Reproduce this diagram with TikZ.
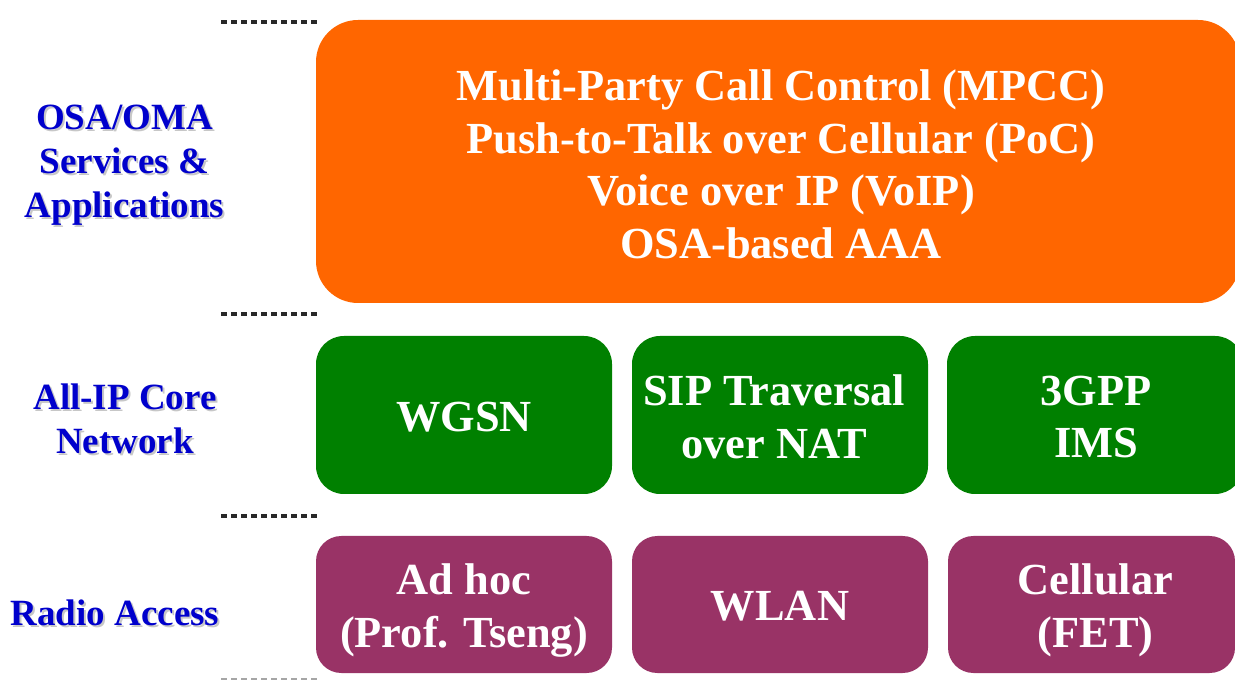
\documentclass[tikz,border=0pt]{standalone}
\usepackage{fontspec}
\usetikzlibrary{calc}
\setmainfont{Liberation Serif}
\definecolor{svcorange}{RGB}{255,102,0}
\definecolor{coregreen}{RGB}{0,128,0}
\definecolor{radioplum}{RGB}{153,51,102}
\definecolor{labelblue}{RGB}{0,0,204}
\definecolor{dashgray}{RGB}{40,40,40}
\tikzset{
  layerbox/.style={rounded corners=#1, inner sep=0pt},
  svcbox/.style={layerbox=31.5pt, fill=svcorange, minimum width=693pt, minimum height=212.25pt},
  corebox/.style={layerbox=21pt, fill=coregreen, minimum width=222pt, minimum height=118.5pt},
  radiobox/.style={layerbox=19pt, fill=radioplum, minimum height=102.75pt},
  boxtext/.style={align=center, text=white, inner sep=0pt,
    font=\bfseries\fontsize{33.3}{39.4}\selectfont},
  layerlabel/.style={align=center, text=labelblue, inner sep=0pt,
    font=\bfseries\fontsize{27.75}{33}\selectfont},
  labelshadow/.style={layerlabel, text=black!22},
  separator/.style={draw=dashgray, line width=3pt, dash pattern=on 4.5pt off 3pt}
}
\begin{document}
\begin{tikzpicture}[x=0.75pt, y=-0.75pt]
  \useasboundingbox (0,0) rectangle (1235,680);
  \clip (0,0) rectangle (1235,680);

  % layer separators
  \coordinate (s1a) at (221,22);  \coordinate (s1b) at (319,22);
  \coordinate (s2a) at (221,314); \coordinate (s2b) at (319,314);
  \coordinate (s3a) at (221,516); \coordinate (s3b) at (319,516);
  \coordinate (s4a) at (221,680); \coordinate (s4b) at (319,680);
  \draw[separator] (s1a) -- (s1b);
  \draw[separator] (s2a) -- (s2b);
  \draw[separator] (s3a) -- (s3b);
  \draw[separator, draw=black!35] (s4a) -- (s4b);

  % services layer
  \node[svcbox] (svc) at (778,161.5) {};
  \node[boxtext] (svctext) at ($(svc.center)+(3,3)$)
    {Multi-Party Call Control (MPCC)\\Push-to-Talk over Cellular (PoC)\\Voice over IP (VoIP)\\OSA-based AAA};

  % core network layer
  \node[corebox] (wgsn) at (464,415) {};
  \node[corebox] (nat)  at (780,415) {};
  \node[corebox] (ims)  at (1095,415) {};
  \node[boxtext] (wgsntext) at ($(wgsn.center)+(0,2)$) {WGSN};
  \node[boxtext] (nattext)  at ($(nat.center)+(-6,2)$) {SIP Traversal\\over NAT};
  \node[boxtext] (imstext)  at ($(ims.center)+(1,2)$) {3GPP\\IMS};

  % radio access layer
  \node[radiobox, minimum width=222pt] (adhoc) at (464,604.5) {};
  \node[radiobox, minimum width=222pt] (wlan)  at (780,604.5) {};
  \node[radiobox, minimum width=215.25pt] (cell) at (1091.5,604.5) {};
  \node[boxtext] (adhoctext) at ($(adhoc.center)+(0,6)$) {Ad hoc\\(Prof. Tseng)};
  \node[boxtext] (wlantext)  at ($(wlan.center)+(0,2)$) {WLAN};
  \node[boxtext] (celltext)  at ($(cell.center)+(4,6)$) {Cellular\\(FET)};

  % layer labels with drop shadow
  \node[labelshadow] (svclabS) at (126.5,167) {OSA/OMA\\Services \&\\Applications};
  \node[layerlabel]  (svclab)  at (124.5,165) {OSA/OMA\\Services \&\\Applications};
  \node[labelshadow] (corelabS) at (127,420.5) {All-IP Core\\Network};
  \node[layerlabel]  (corelab)  at (125,418.5) {All-IP Core\\Network};
  \node[labelshadow] (radiolabS) at (117,615) {Radio Access};
  \node[layerlabel]  (radiolab)  at (115,613) {Radio Access};
\end{tikzpicture}
\end{document}
